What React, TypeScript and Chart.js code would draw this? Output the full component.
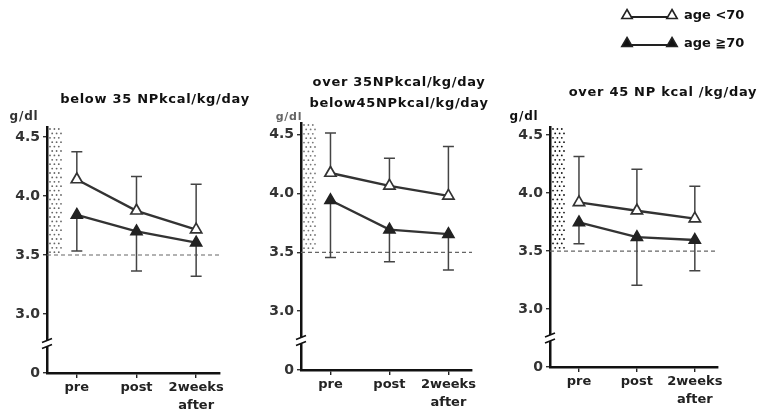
import React, { useEffect, useRef } from 'react';
import { Chart, registerables } from 'chart.js';
Chart.register(...registerables);

// ---------- data ----------
const categories: (string | string[])[] = ['pre', 'post', ['2weeks', 'after']];
const seriesLabels = ['age <70', 'age ≧70'];
const yTickValues = [2.5, 3.0, 3.5, 4.0, 4.5]; // 2.5 stands for the broken-axis "0"
const yTickLabels = ['0', '3.0', '3.5', '4.0', '4.5'];
const normalLevel = 3.5;
const breakLevel = 2.75;
const unitLabel = 'g/dl';

const titles1 = ['below 35 NPkcal/kg/day'];
const young1 = [4.14, 3.875, 3.715];
const young1Upper = [4.375, 4.165, 4.1];
const old1 = [3.84, 3.7, 3.605];
const old1Lower = [3.535, 3.365, 3.32];

const titles2 = ['over 35NPkcal/kg/day', 'below45NPkcal/kg/day'];
const young2 = [4.175, 4.066, 3.98];
const young2Upper = [4.515, 4.3, 4.4];
const old2 = [3.943, 3.693, 3.655];
const old2Lower = [3.457, 3.42, 3.35];

const titles3 = ['over 45 NP kcal /kg/day'];
const young3 = [3.92, 3.848, 3.78];
const young3Upper = [4.315, 4.205, 4.06];
const old3 = [3.747, 3.62, 3.595];
const old3Lower = [3.563, 3.205, 3.33];

// ---------- layout / style ----------
const W = 761;
const H = 413;
const FONT = '"DejaVu Sans", "Noto Sans CJK JP", sans-serif';

type PanelCfg = {
  left: number; right: number; top: number; bottom: number; yMax: number;
  titles: string[]; titleX: number; titleY: number[];
  unitX: number; unitY: number; unitColor: string; unitSize: number;
  young: number[]; youngUpper: number[]; old: number[]; oldLower: number[];
  dotColor: string; legend?: boolean;
};

const panels: PanelCfg[] = [
  {
    left: 47, right: 220, top: 127, bottom: 373, yMax: 4.585,
    titles: titles1, titleX: 155, titleY: [100],
    unitX: 24, unitY: 117, unitColor: '#333', unitSize: 12,
    young: young1, youngUpper: young1Upper, old: old1, oldLower: old1Lower,
    dotColor: '#666',
  },
  {
    left: 301, right: 472, top: 123, bottom: 370, yMax: 4.6,
    titles: titles2, titleX: 399, titleY: [83, 104],
    unitX: 289, unitY: 117, unitColor: '#666', unitSize: 11,
    young: young2, youngUpper: young2Upper, old: old2, oldLower: old2Lower,
    dotColor: '#777',
  },
  {
    left: 550, right: 718, top: 127, bottom: 367, yMax: 4.57,
    titles: titles3, titleX: 663, titleY: [93],
    unitX: 524, unitY: 117, unitColor: '#111', unitSize: 12,
    young: young3, youngUpper: young3Upper, old: old3, oldLower: old3Lower,
    dotColor: '#111', legend: true,
  },
];

function triPath(ctx: CanvasRenderingContext2D, x: number, y: number, r: number) {
  ctx.beginPath();
  for (let k = 0; k < 3; k++) {
    const a = (k * 2 * Math.PI) / 3;
    const px = x + Math.sin(a) * r;
    const py = y - Math.cos(a) * r;
    if (k === 0) ctx.moveTo(px, py); else ctx.lineTo(px, py);
  }
  ctx.closePath();
}

function setSpacing(ctx: any, v: string) {
  if ('letterSpacing' in ctx) ctx.letterSpacing = v;
}

function makePlugin(cfg: PanelCfg) {
  return {
    id: 'panelDecor',
    beforeDatasetsDraw(chart: any) {
      const { ctx, chartArea, scales } = chart;
      const y = scales.y;
      ctx.save();
      // dotted normal-range band next to the axis
      const y0 = chartArea.top;
      const y1 = y.getPixelForValue(normalLevel);
      const xl = chartArea.left + 3;
      const xr = chartArea.left + 16;
      ctx.fillStyle = cfg.dotColor;
      let row = 0;
      for (let yy = y0 + 2; yy < y1 - 1; yy += 4.4, row++) {
        for (let xx = xl + (row % 2 ? 2.2 : 0); xx < xr; xx += 4.4) {
          ctx.beginPath();
          ctx.arc(xx, yy, 0.9, 0, Math.PI * 2);
          ctx.fill();
        }
      }
      // dashed reference line
      ctx.strokeStyle = '#666';
      ctx.lineWidth = 1.2;
      ctx.setLineDash([4, 3]);
      ctx.beginPath();
      ctx.moveTo(chartArea.left, y1);
      ctx.lineTo(chartArea.right, y1);
      ctx.stroke();
      ctx.setLineDash([]);
      // error bars
      const ends = [cfg.youngUpper, cfg.oldLower];
      ctx.strokeStyle = '#444';
      ctx.lineWidth = 1.5;
      for (let d = 0; d < 2; d++) {
        const meta = chart.getDatasetMeta(d);
        meta.data.forEach((pt: any, j: number) => {
          const ey = y.getPixelForValue(ends[d][j]);
          ctx.beginPath();
          ctx.moveTo(pt.x, pt.y);
          ctx.lineTo(pt.x, ey);
          ctx.moveTo(pt.x - 5.5, ey);
          ctx.lineTo(pt.x + 5.5, ey);
          ctx.stroke();
        });
      }
      ctx.restore();
    },
    afterDraw(chart: any) {
      const { ctx, chartArea, scales } = chart;
      const y = scales.y;
      ctx.save();
      // axis break
      const by = y.getPixelForValue(breakLevel);
      const ax = chartArea.left;
      ctx.fillStyle = '#fff';
      ctx.fillRect(ax - 3, by - 3, 6, 6);
      ctx.strokeStyle = '#111';
      ctx.lineWidth = 1.6;
      ctx.beginPath();
      ctx.moveTo(ax - 5, by - 1);
      ctx.lineTo(ax + 5, by - 5);
      ctx.moveTo(ax - 5, by + 5);
      ctx.lineTo(ax + 5, by + 1);
      ctx.stroke();
      // titles
      ctx.fillStyle = '#111';
      ctx.font = `bold 13px ${FONT}`;
      ctx.textAlign = 'center';
      ctx.textBaseline = 'middle';
      setSpacing(ctx, '0.7px');
      cfg.titles.forEach((t, i) => ctx.fillText(t, cfg.titleX, cfg.titleY[i]));
      // unit
      ctx.fillStyle = cfg.unitColor;
      ctx.font = `bold ${cfg.unitSize}px ${FONT}`;
      setSpacing(ctx, '0.8px');
      ctx.fillText(unitLabel, cfg.unitX, cfg.unitY);
      setSpacing(ctx, '0px');
      // legend
      if (cfg.legend) {
        const rows = [15, 43];
        rows.forEach((ly, s) => {
          ctx.strokeStyle = '#222';
          ctx.lineWidth = 2;
          ctx.beginPath();
          ctx.moveTo(627, ly + 2);
          ctx.lineTo(672, ly + 2);
          ctx.stroke();
          [627, 672].forEach((lx) => {
            triPath(ctx, lx, ly + 0.5, 6);
            ctx.fillStyle = s === 0 ? '#fff' : '#111';
            ctx.fill();
            ctx.lineWidth = 1.6;
            ctx.stroke();
          });
          ctx.fillStyle = '#111';
          ctx.font = `bold 13px ${FONT}`;
          ctx.textAlign = 'left';
          ctx.fillText(seriesLabels[s], 684, ly + 1);
        });
      }
      ctx.restore();
    },
  };
}

function buildConfig(cfg: PanelCfg): any {
  const tickFont = { family: FONT, weight: 'bold' as const };
  return {
    type: 'line',
    data: {
      datasets: [
        {
          label: seriesLabels[0],
          data: cfg.young.map((v, i) => ({ x: i, y: v })),
          borderColor: '#333',
          borderWidth: 2.4,
          pointStyle: 'triangle',
          pointRadius: 6.5,
          pointBackgroundColor: '#fff',
          pointBorderColor: '#333',
          pointBorderWidth: 1.7,
          tension: 0,
        },
        {
          label: seriesLabels[1],
          data: cfg.old.map((v, i) => ({ x: i, y: v })),
          borderColor: '#333',
          borderWidth: 2.4,
          pointStyle: 'triangle',
          pointRadius: 6.5,
          pointBackgroundColor: '#222',
          pointBorderColor: '#222',
          pointBorderWidth: 1.5,
          tension: 0,
        },
      ],
    },
    options: {
      animation: false,
      responsive: false,
      devicePixelRatio: 1,
      events: [],
      layout: { padding: { left: 0, top: cfg.top, right: W - cfg.right, bottom: 0 } },
      plugins: { legend: { display: false }, tooltip: { enabled: false }, title: { display: false } },
      scales: {
        x: {
          type: 'linear',
          min: -0.5,
          max: 2.4,
          afterBuildTicks: (s: any) => { s.ticks = categories.map((_, i) => ({ value: i })); },
          afterFit: (s: any) => { s.height = H - cfg.bottom; },
          ticks: {
            callback: (v: any) => categories[v as number],
            font: { ...tickFont, size: 13, lineHeight: 1.35 },
            color: '#222',
            padding: 1,
            maxRotation: 0,
            autoSkip: false,
          },
          grid: { display: true, drawOnChartArea: false, drawTicks: true, tickLength: 5, color: '#222', lineWidth: 1.4 },
          border: { display: true, color: '#111', width: 2.5 },
        },
        y: {
          type: 'linear',
          min: 2.5,
          max: cfg.yMax,
          afterBuildTicks: (s: any) => { s.ticks = yTickValues.map((v) => ({ value: v })); },
          afterFit: (s: any) => { s.width = cfg.left; },
          ticks: {
            callback: (v: any) => yTickLabels[yTickValues.indexOf(v)] ?? '',
            font: { ...tickFont, size: 14 },
            color: '#333',
            padding: 3,
          },
          grid: { display: true, drawOnChartArea: false, drawTicks: true, tickLength: 4, color: '#333', lineWidth: 1.4 },
          border: { display: true, color: '#111', width: 2.5 },
        },
      },
    },
    plugins: [makePlugin(cfg)],
  };
}

function Panel({ cfg }: { cfg: PanelCfg }) {
  const ref = useRef<HTMLCanvasElement>(null);
  useEffect(() => {
    const chart = new Chart(ref.current as HTMLCanvasElement, buildConfig(cfg));
    return () => chart.destroy();
  }, [cfg]);
  return (
    <canvas
      ref={ref}
      width={W}
      height={H}
      style={{ position: 'absolute', left: 0, top: 0, width: W, height: H }}
    />
  );
}

export default function App() {
  return (
    <div style={{ position: 'absolute', left: 0, top: 0, width: W, height: H, background: '#fff', overflow: 'hidden' }}>
      {panels.map((p, i) => (
        <Panel key={i} cfg={p} />
      ))}
    </div>
  );
}
